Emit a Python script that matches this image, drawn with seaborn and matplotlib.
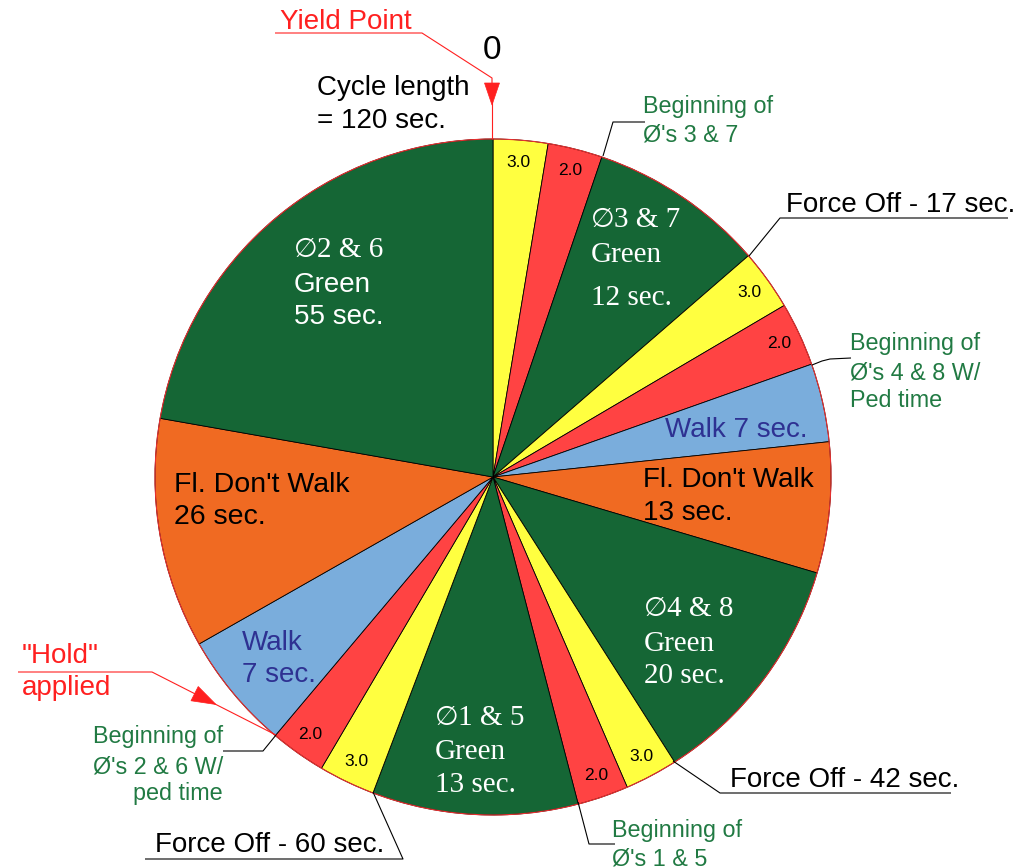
import numpy as np
import matplotlib
matplotlib.use("Agg")
import matplotlib.pyplot as plt
from matplotlib.patches import Circle, Polygon
import seaborn as sns

# ---- cycle diagram data (clockwise from the yield point) ----
phases = ["Y", "R", "G3&7", "Y", "R", "Walk 4&8", "FDW 4&8", "G4&8",
          "Y", "R", "G1&5", "Y", "R", "Walk 2&6", "FDW 2&6", "G2&6"]
wedge_deg = [9.4, 9.4, 30.3, 10.4, 11.0, 13.5, 22.5, 41.0,
             9.1, 8.8, 35.4, 9.7, 9.6, 20.3, 39.6, 80.0]
interval_labels = ["3.0", "2.0", "", "3.0", "2.0", "", "", "",
                   "3.0", "2.0", "", "3.0", "2.0", "", "", ""]
phase_kind = ["yellow", "red", "green", "yellow", "red", "walk", "fdw", "green",
              "yellow", "red", "green", "yellow", "red", "walk", "fdw", "green"]
cycle_length = 120
force_offs = [17, 42, 60]

kind_colors = {
    "green": "#156635",
    "yellow": "#FFFF40",
    "red": "#FF4343",
    "walk": "#7AADDC",
    "fdw": "#F06A22",
}

sns.set_theme(style="white")
SANS = ["Liberation Sans", "DejaVu Sans"]
SERIF = ["Liberation Serif", "DejaVu Serif"]
SYMBOL = ["DejaVu Sans", "DejaVu Serif", "Noto Sans CJK SC"]
plt.rcParams["font.family"] = SANS

W, H = 1031, 868
fig = plt.figure(figsize=(W / 100, H / 100), dpi=100)
ax = fig.add_axes([0, 0, 1, 1])

cx, cy, R = 493, 477, 338


def Y(y):
    return H - y


palette = sns.color_palette([kind_colors[k] for k in phase_kind])
wedges, _ = ax.pie(
    wedge_deg,
    colors=palette,
    startangle=90,
    counterclock=False,
    center=(cx, Y(cy)),
    radius=R,
    wedgeprops=dict(edgecolor="black", linewidth=0.6),
)
ax.add_patch(Circle((cx, Y(cy)), R, fill=False, edgecolor="#E83030", linewidth=0.8, zorder=3))

# interval values inside the clearance wedges
for w, lab in zip(wedges, interval_labels):
    if not lab:
        continue
    ang = np.deg2rad((w.theta1 + w.theta2) / 2)
    r = 0.935 * R
    ax.text(cx + r * np.cos(ang), Y(cy) + r * np.sin(ang), lab,
            ha="center", va="center", fontsize=12.5, color="black")

ax.set_xlim(0, W)
ax.set_ylim(0, H)
ax.set_aspect("equal")
ax.axis("off")


def text_lines(x, ys, lines, size, color="black", family=SANS, ha="left"):
    for y, s in zip(ys, lines):
        ax.text(x, Y(y), s, fontsize=size, color=color, family=family,
                ha=ha, va="baseline", zorder=5)


def phase_title(x, y, s, color="white"):
    # diameter sign followed by the phase pair in a serif face
    ax.text(x, Y(y), "\u2205", fontsize=19.5, color=color, family=SYMBOL,
            ha="left", va="baseline", zorder=5)
    ax.text(x + 23, Y(y), s, fontsize=21, color=color, family=SERIF,
            ha="left", va="baseline", zorder=5)


def poly(pts, color="black", lw=0.8):
    xs = [p[0] for p in pts]
    ys = [Y(p[1]) for p in pts]
    ax.plot(xs, ys, color=color, lw=lw, solid_capstyle="butt", zorder=4)


def head(tip, tail, color="red", length=22, half=7.5):
    t = np.array([tip[0], Y(tip[1])], float)
    b = np.array([tail[0], Y(tail[1])], float)
    d = (t - b) / np.linalg.norm(t - b)
    n = np.array([-d[1], d[0]])
    base = t - length * d
    ax.add_patch(Polygon([t, base + half * n, base - half * n], closed=True,
                         facecolor=color, edgecolor=color, lw=0.5, zorder=6))


WHITE = "white"
BLUE = "#2E3192"
GREEN_TXT = "#217A43"
RED_TXT = "#FF2020"

# phase labels inside the wedges
phase_title(294, 257, "2 & 6")
text_lines(294, [292, 324], ["Green", "55 sec."], 20, WHITE)
phase_title(591, 227, "3 & 7")
text_lines(591, [262, 305], ["Green", "12 sec."], 21, WHITE, SERIF)
phase_title(644, 616, "4 & 8")
text_lines(644, [651, 683], ["Green", "20 sec."], 21, WHITE, SERIF)
phase_title(435, 725, "1 & 5")
text_lines(435, [759, 792], ["Green", "13 sec."], 21, WHITE, SERIF)
text_lines(665, [437], ["Walk 7 sec."], 20, BLUE)
text_lines(643, [487, 520], ["Fl. Don't Walk", "13 sec."], 20)
text_lines(242, [650, 682], ["Walk", "7 sec."], 20, BLUE)
text_lines(174, [492, 524], ["Fl. Don't Walk", "26 sec."], 20.5)

# cycle header
ax.text(492, Y(59), "0", fontsize=24, ha="center", va="baseline", color="black")
text_lines(317, [95, 128], ["Cycle length", f"= {cycle_length} sec."], 20)

# yield point callout
text_lines(280, [29], ["Yield Point"], 20, RED_TXT)
poly([(275, 33), (422, 33), (492, 78), (492, 90)], color=RED_TXT, lw=0.8)
head((492, 105), (492, 78), color=RED_TXT)
poly([(492, 100), (492, cy - R)], color=RED_TXT, lw=0.8)

# hold callout
text_lines(22, [663, 695], ['"Hold"', "applied"], 20, RED_TXT)
poly([(18, 672), (152, 672), (276, 735)], color=RED_TXT, lw=0.8)
head((216, 704.5), (152, 672), color=RED_TXT, length=24, half=8)

# force-off callouts
fo_17, fo_42, fo_60 = force_offs
text_lines(786, [212], [f"Force Off - {fo_17} sec."], 20)
poly([(749, 256), (780, 218), (1008, 218)])
text_lines(730, [787], [f"Force Off - {fo_42} sec."], 20)
poly([(673, 761), (720, 793), (951, 793)])
text_lines(155, [852], [f"Force Off - {fo_60} sec."], 20)
poly([(373, 792), (403, 859), (145, 859)])

# beginning-of-phase callouts
text_lines(643, [113, 142], ["Beginning of", "\u00d8's 3 & 7"], 16.8, GREEN_TXT)
poly([(603, 156), (613, 122), (645, 122)])
text_lines(850, [350, 379, 407], ["Beginning of", "\u00d8's 4 & 8 W/", "Ped time"], 16.8, GREEN_TXT)
poly([(812, 365), (822, 361), (830, 359), (851, 358)])
text_lines(612, [837, 865], ["Beginning of", "\u00d8's 1 & 5"], 16.8, GREEN_TXT)
poly([(578, 802), (589, 844), (615, 844)])
text_lines(223, [743, 773, 800], ["Beginning of", "\u00d8's 2 & 6 W/", "ped time"], 16.8, GREEN_TXT, ha="right")
poly([(276, 735), (263, 751), (223, 751)])

fig.savefig("out.png", dpi=100, facecolor="white")
